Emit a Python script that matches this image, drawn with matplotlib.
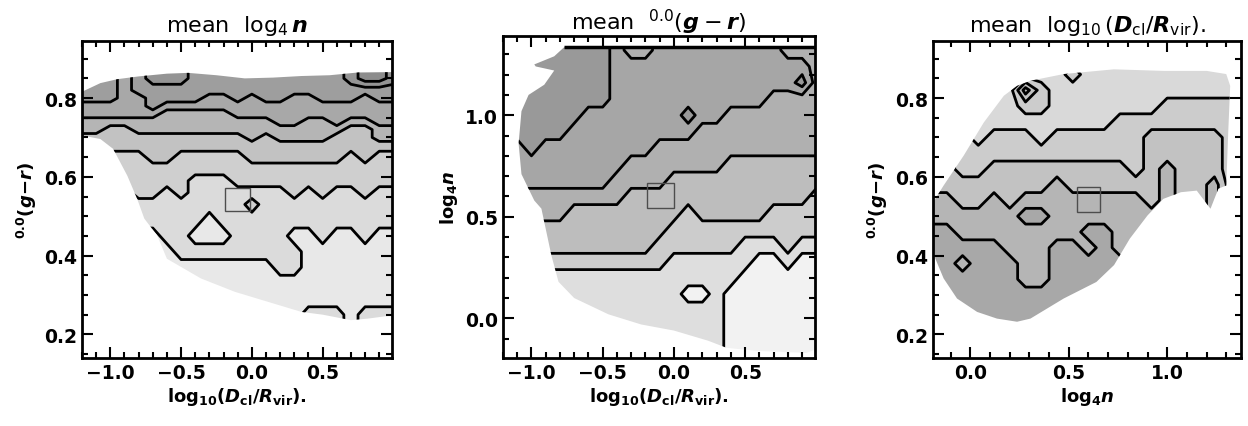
import numpy as np
import matplotlib
matplotlib.use('Agg')
import matplotlib.pyplot as plt
from matplotlib.patches import Polygon, Rectangle
from matplotlib.ticker import MultipleLocator

plt.rcParams['font.family'] = ['DejaVu Sans']
plt.rcParams['mathtext.fontset'] = 'custom'
plt.rcParams['mathtext.rm'] = 'DejaVu Sans'
plt.rcParams['mathtext.it'] = 'DejaVu Sans:italic:bold'
plt.rcParams['mathtext.bf'] = 'DejaVu Sans:bold'

# --- panel 1: mean log4 n, binned in (log10 Dcl/Rvir, 0.0(g-r))
# digits = contour band of each bin; each string is one x column, top to bottom
p1_x = [-1.2, -1.1, -1.0, -0.9, -0.8, -0.7, -0.6, -0.5, -0.4, -0.3, -0.2, -0.1,
        0.0, 0.1, 0.2, 0.3, 0.4, 0.5, 0.6, 0.7, 0.8, 0.9, 1.0]
p1_y = [0.93, 0.89, 0.85, 0.82, 0.80, 0.78, 0.76, 0.74, 0.72, 0.70, 0.68, 0.65,
        0.62, 0.59, 0.56, 0.53, 0.49, 0.45, 0.41, 0.37, 0.33, 0.29, 0.25, 0.21]
p1_cols = [
    "666665544332221110000000",
    "666665544332221110000000",
    "666665543332221110000000",
    "555555543332221110000000",
    "666655544332222110000000",
    "777666544333222110000000",
    "777665444333221111000000",
    "777665444332222111100000",
    "666665444332211110100000",
    "666655444332211100100000",
    "666655444332211110100000",
    "666665544332221111100000",
    "666655544433221211100000",
    "666665544333221111100000",
    "666665554433221111110000",
    "666655554433222110110000",
    "666655544433221110000011",
    "666665544433222111000011",
    "666665554333221110000011",
    "777665543332221110000000",
    "888655543333222111000011",
    "888665554432221110000011",
    "777665554432221110000011",
]
p1_greys = [0.91, 0.86, 0.81, 0.76, 0.71, 0.66, 0.62, 0.58, 0.55]
p1_edge_x = [-1.2, -1.07, -0.95, -0.8, -0.6, -0.45, -0.25, -0.05, 0.15, 0.35, 0.55, 0.75, 1.01,
             1.01, 0.82, 0.7, 0.5, 0.35, 0.11, -0.12, -0.36, -0.6, -0.67, -0.76, -0.81, -0.88,
             -0.98, -1.07, -1.2]
p1_edge_y = [0.816, 0.838, 0.848, 0.855, 0.862, 0.864, 0.858, 0.850, 0.852, 0.856, 0.858, 0.865, 0.866,
             0.249, 0.24, 0.236, 0.25, 0.257, 0.283, 0.308, 0.342, 0.392, 0.452, 0.494, 0.544, 0.603,
             0.671, 0.696, 0.705]
p1_box_x = [-0.19, -0.01]
p1_box_y = [0.513, 0.571]

# --- panel 2: mean 0.0(g-r), binned in (log10 Dcl/Rvir, log4 n); one string per x column
p2_x = p1_x
p2_y = [1.40, 1.32, 1.24, 1.16, 1.08, 1.00, 0.92, 0.84, 0.76, 0.68, 0.60, 0.52, 0.44,
        0.36, 0.28, 0.20, 0.12, 0.04, -0.04, -0.12, -0.20]
p2_cols = [
    "666666655544332111111",
    "666666655544332111111",
    "666666665544332111111",
    "666666655544332111111",
    "666666655544332111111",
    "666666555543332111111",
    "666665555543332111111",
    "666665555543332111111",
    "555555555443332111111",
    "445555554433332111111",
    "445555554433332111111",
    "555555544433322111111",
    "555555544333221111111",
    "555556544332221101111",
    "555555444333221101111",
    "555555444333221111111",
    "555554443333221100000",
    "555554443333211000000",
    "555554443333210000000",
    "555544443332210000000",
    "445544443332221000000",
    "445644443332210000000",
    "444444443322210000000",
]
p2_greys = [0.95, 0.87, 0.80, 0.74, 0.69, 0.65, 0.60]
p2_edge_x = [-0.77, 1.01, 1.01, 0.93, 0.58, 0.37, 0.24, 0.0, -0.23, -0.46, -0.70, -0.81, -0.86,
             -0.93, -0.98, -1.07, -1.09, -1.07, -1.02, -0.91, -0.84, -0.97, -0.98, -0.84]
p2_edge_y = [1.335, 1.335, -0.15, -0.17, -0.16, -0.145, -0.11, -0.06, -0.03, 0.02, 0.10, 0.18, 0.31,
             0.54, 0.58, 0.71, 0.86, 1.02, 1.10, 1.15, 1.22, 1.24, 1.25, 1.29]
p2_box_x = [-0.19, 0.0]
p2_box_y = [0.543, 0.666]

# --- panel 3: mean log10(Dcl/Rvir), binned in (log4 n, 0.0(g-r)); one string per y row
p3_x = [-0.20, -0.12, -0.04, 0.04, 0.12, 0.20, 0.28, 0.36, 0.44, 0.52, 0.60, 0.68, 0.76,
        0.84, 0.92, 1.00, 1.08, 1.16, 1.24, 1.32, 1.40]
p3_y = [0.90, 0.86, 0.82, 0.78, 0.74, 0.70, 0.66, 0.62, 0.58, 0.54, 0.50, 0.46, 0.42,
        0.38, 0.34, 0.30, 0.26, 0.22]
p3_rows = [
    "221000000000000000000",
    "221000000100000000000",
    "221000310000000000000",
    "221000110000000111111",
    "221000000000111111111",
    "221011101111112222211",
    "221111111111112222211",
    "221122222222212322211",
    "222222223222222322311",
    "332232333333332322311",
    "333333443333333322311",
    "443333333344333322311",
    "444443334434333322311",
    "443444334444433322311",
    "444444334444433322311",
    "444444444444433322311",
    "444444444444433322311",
    "444444444444433322311",
]
p3_greys = [0.85, 0.80, 0.76, 0.71, 0.66]
p3_edge_x = [0.305, 0.474, 0.729, 0.983, 1.2, 1.30, 1.32, 1.31, 1.30, 1.26, 1.22, 1.15, 1.07,
             0.98, 0.90, 0.81, 0.73, 0.64, 0.474, 0.305, 0.237, 0.135, 0.034, -0.068, -0.136,
             -0.178, -0.2, -0.2, -0.136, -0.034, 0.068, 0.17, 0.237]
p3_edge_y = [0.844, 0.861, 0.873, 0.869, 0.869, 0.861, 0.831, 0.713, 0.578, 0.57, 0.519, 0.565, 0.561,
             0.544, 0.502, 0.443, 0.376, 0.333, 0.291, 0.24, 0.232, 0.24, 0.257, 0.291, 0.342,
             0.392, 0.46, 0.527, 0.578, 0.654, 0.738, 0.806, 0.831]
p3_box_x = [0.542, 0.657]
p3_box_y = [0.511, 0.574]

xlab_d = r'$\mathbf{log}_{\mathbf{10}}\mathbf{(}D_{\mathbf{cl}}\mathbf{/}R_{\mathbf{vir}}\mathbf{)}$.'
lab_gr = r'$^{\mathbf{0.0}}\mathbf{(}g\mathbf{-}r\mathbf{)}$'
lab_n = r'$\mathbf{log}_{\mathbf{4}}n$'


def draw_panel(ax, xs, ys, grid, greys, edge_x, edge_y, box_x, box_y, by_column=False):
    z = np.array([[int(ch) for ch in s] for s in grid], dtype=float)
    if by_column:
        z = z.T
    z = z[::-1]
    yy = np.array(ys)[::-1]
    X, Y = np.meshgrid(xs, yy)
    clip = Polygon(np.column_stack([edge_x, edge_y]), closed=True,
                   transform=ax.transData, facecolor='none', edgecolor='none')
    nb = len(greys)
    cf = ax.contourf(X, Y, z, levels=np.arange(-0.5, nb), colors=[str(g) for g in greys])
    cl = ax.contour(X, Y, z, levels=np.arange(0.5, nb - 1), colors='k', linewidths=2.0)
    cf.set_clip_path(clip)
    cl.set_clip_path(clip)
    ax.add_patch(Rectangle((box_x[0], box_y[0]), box_x[1] - box_x[0], box_y[1] - box_y[0],
                           fill=False, ec='0.3', lw=1.0, zorder=3))


def style_axes(ax, xmaj, xmin, ymaj, ymin):
    ax.xaxis.set_major_locator(MultipleLocator(xmaj))
    ax.xaxis.set_minor_locator(MultipleLocator(xmin))
    ax.yaxis.set_major_locator(MultipleLocator(ymaj))
    ax.yaxis.set_minor_locator(MultipleLocator(ymin))
    ax.tick_params(which='both', direction='in', top=True, right=True, width=1.5, labelsize=13.5)
    ax.tick_params(which='major', length=8)
    ax.tick_params(which='minor', length=4)
    for sp in ax.spines.values():
        sp.set_linewidth(2)
    for lab in ax.get_xticklabels() + ax.get_yticklabels():
        lab.set_fontweight('bold')


fig = plt.figure(figsize=(12.48, 4.27), dpi=100)
ax1 = fig.add_axes([0.0657, 0.1593, 0.2484, 0.7424])
ax2 = fig.add_axes([0.4030, 0.1593, 0.2500, 0.7541])
ax3 = fig.add_axes([0.7476, 0.1593, 0.2468, 0.7424])

draw_panel(ax1, p1_x, p1_y, p1_cols, p1_greys, p1_edge_x, p1_edge_y, p1_box_x, p1_box_y, by_column=True)
ax1.set_xlim(-1.2, 0.99)
ax1.set_ylim(0.14, 0.945)
style_axes(ax1, 0.5, 0.1, 0.2, 0.05)
ax1.set_title(r'mean  $\log_4 n$', fontsize=16, pad=7)
ax1.set_xlabel(xlab_d, fontsize=13, fontweight='bold', labelpad=2)
ax1.set_ylabel(lab_gr, fontsize=13, fontweight='bold')

draw_panel(ax2, p2_x, p2_y, p2_cols, p2_greys, p2_edge_x, p2_edge_y, p2_box_x, p2_box_y, by_column=True)
# the upper edge of the occupied region is drawn as a heavy line in the original
ax2.plot(p2_edge_x[:2], p2_edge_y[:2], color='k', lw=2.5, solid_capstyle='butt')
ax2.set_xlim(-1.2, 0.99)
ax2.set_ylim(-0.195, 1.39)
style_axes(ax2, 0.5, 0.1, 0.5, 0.1)
ax2.set_title(r'mean  $^{0.0}(g-r)$', fontsize=16, pad=3)
ax2.set_xlabel(xlab_d, fontsize=13, fontweight='bold', labelpad=2)
ax2.set_ylabel(lab_n, fontsize=13, fontweight='bold')

draw_panel(ax3, p3_x, p3_y, p3_rows, p3_greys, p3_edge_x, p3_edge_y, p3_box_x, p3_box_y)
ax3.set_xlim(-0.19, 1.375)
ax3.set_ylim(0.14, 0.945)
style_axes(ax3, 0.5, 0.1, 0.2, 0.05)
ax3.set_title(r'mean  $\log_{10}(D_{\rm cl}/R_{\rm vir})$.', fontsize=16, pad=7)
ax3.set_xlabel(lab_n, fontsize=13, fontweight='bold', labelpad=2)
ax3.set_ylabel(lab_gr, fontsize=13, fontweight='bold')

fig.savefig('out.png', dpi=100)
